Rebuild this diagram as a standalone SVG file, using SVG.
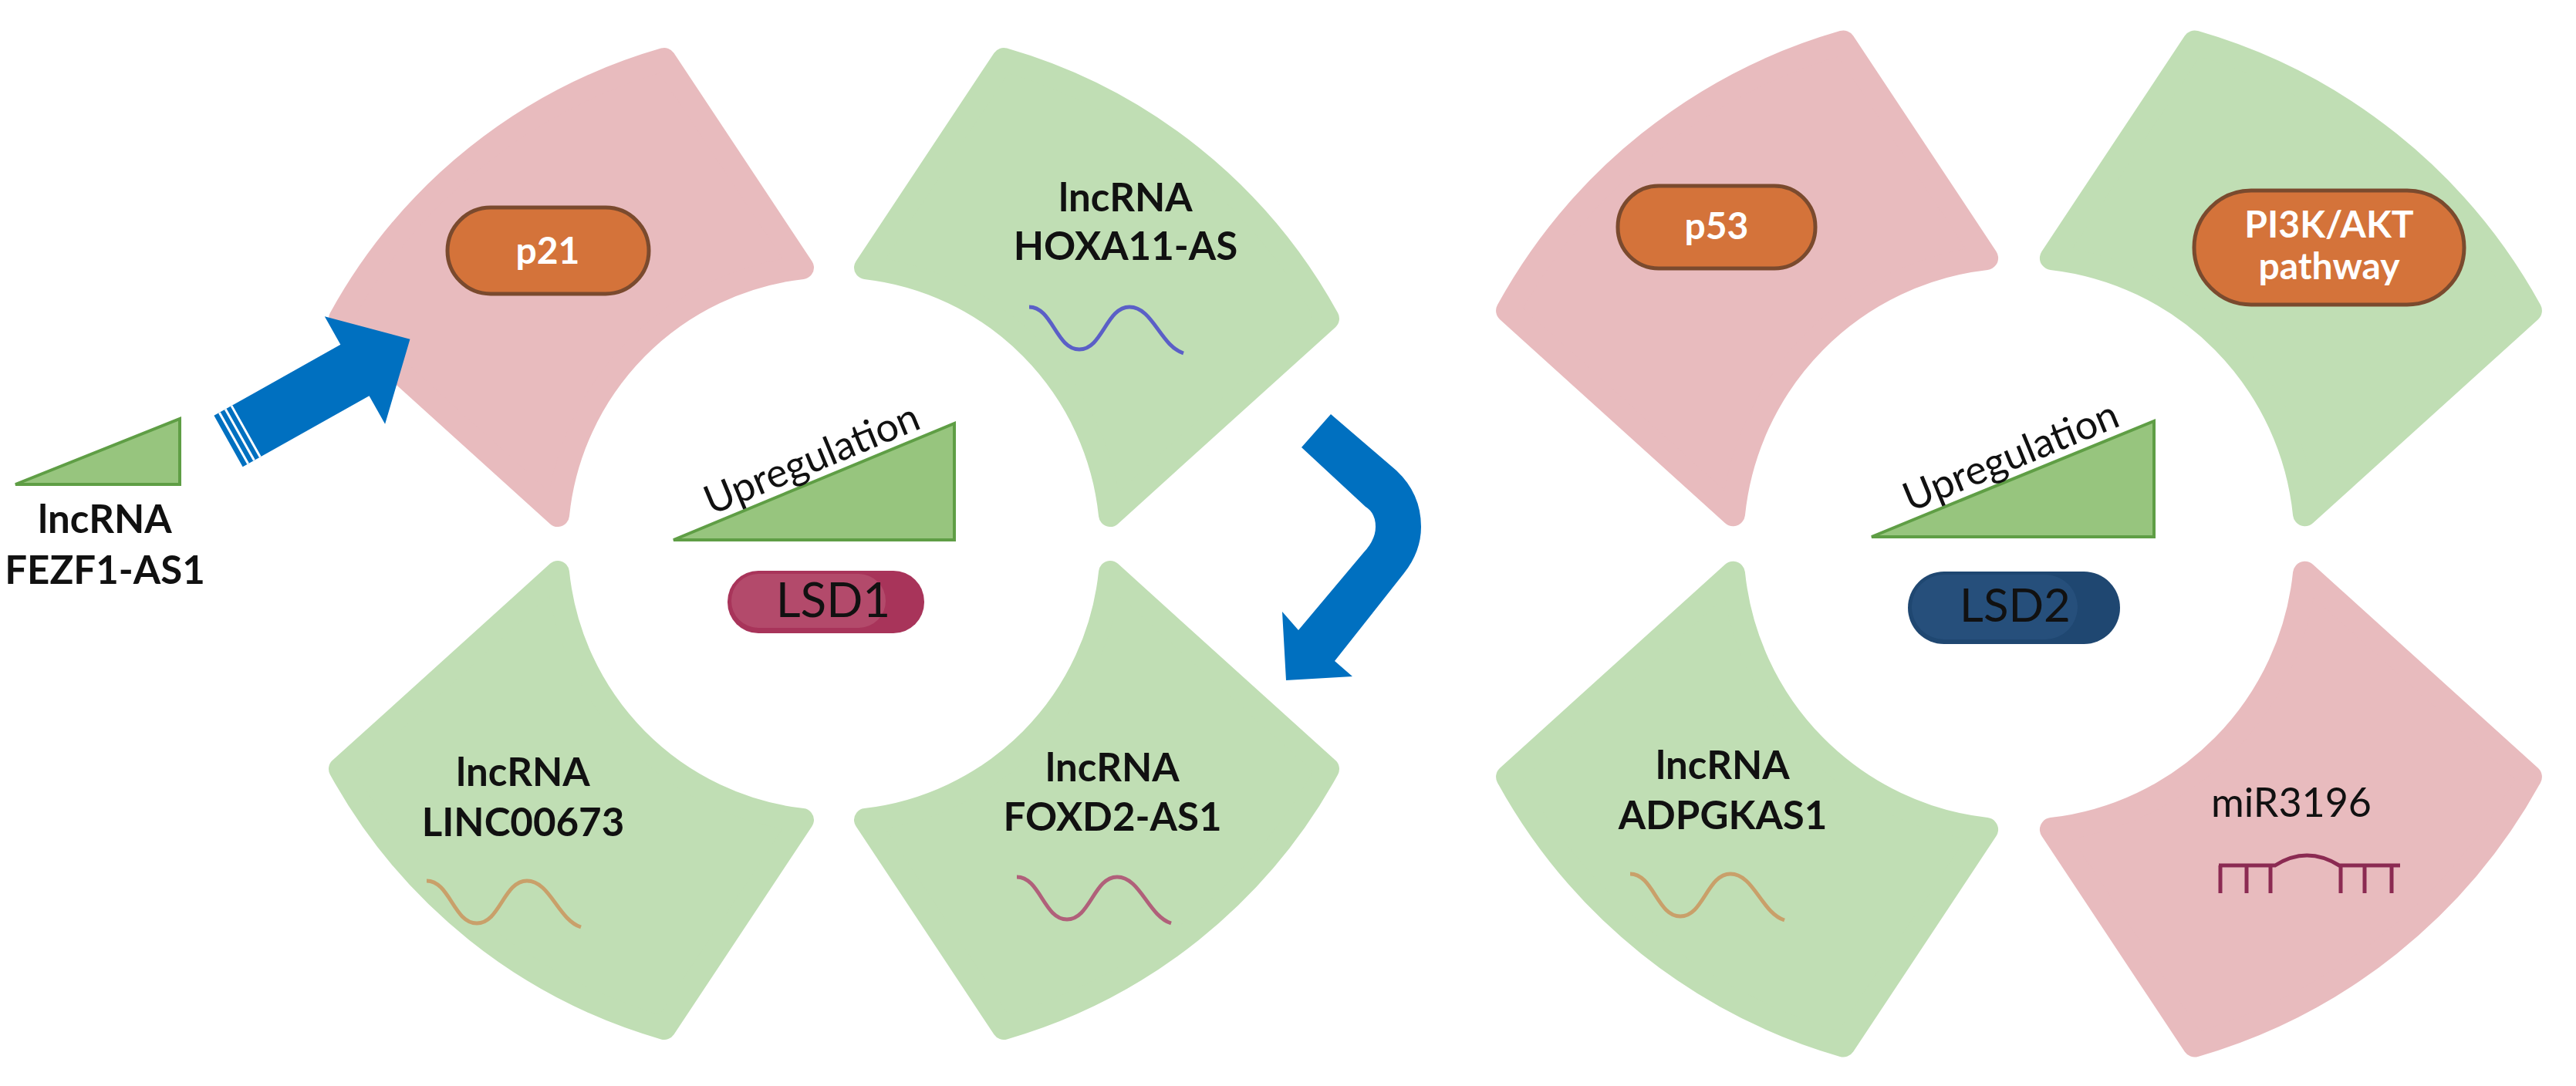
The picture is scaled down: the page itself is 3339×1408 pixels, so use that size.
<svg xmlns="http://www.w3.org/2000/svg" xmlns:xlink="http://www.w3.org/1999/xlink" width="3339" height="1408" viewBox="0 0 3339 1408">
<style>
.pink{fill:#e8bbbe;stroke:#e8bbbe;stroke-width:30;stroke-linejoin:round}
.green{fill:#c0deb4;stroke:#c0deb4;stroke-width:30;stroke-linejoin:round}
.lbl{font-family:Lato,"Liberation Sans",sans-serif;font-weight:bold;font-size:51px;fill:#111;text-anchor:middle}
.pill{fill:#d4733a;stroke:#7a4a2e;stroke-width:5}
.pt{font-family:Lato,"Liberation Sans",sans-serif;font-weight:bold;font-size:48px;fill:#fff;text-anchor:middle}
.tri{fill:#97c57e;stroke:#5f9e45;stroke-width:4}
.up{font-family:Lato,"Liberation Sans",sans-serif;font-size:52px;fill:#111}
.wave{fill:none;stroke-width:5}
.blue{fill:#0070c0}
</style>
<defs>
<path id="petal" d="M -640,-292 L -358,-37 A 360 360 0 0 1 -41,-358 L -220,-628 A 700 700 0 0 0 -640,-292 Z"/>
<path id="wv" d="M0,0 C30,0 35,55 65,55 C95,55 100,0 130,0 C160,0 170,50 200,60"/>
</defs>

<g id="lsd1-panel">
<g id="p21-node" transform="translate(1081,705)"><use xlink:href="#petal" class="pink"/></g>
<g id="hoxa-node"><use xlink:href="#petal" class="green" transform="translate(1081,705) scale(-1,1)"/>
<text class="lbl" x="1459" y="274">lncRNA</text><text class="lbl" x="1459" y="337">HOXA11-AS</text>
<use xlink:href="#wv" class="wave" stroke="#5b5fc7" transform="translate(1334,398)"/></g>
<g id="linc-node"><use xlink:href="#petal" class="green" transform="translate(1081,705) scale(1,-1)"/>
<text class="lbl" x="678" y="1019">lncRNA</text><text class="lbl" x="678" y="1084">LINC00673</text>
<use xlink:href="#wv" class="wave" stroke="#c9a06a" transform="translate(553,1142)"/></g>
<g id="foxd2-node"><use xlink:href="#petal" class="green" transform="translate(1081,705) scale(-1,-1)"/>
<text class="lbl" x="1442" y="1013">lncRNA</text><text class="lbl" x="1442" y="1077">FOXD2-AS1</text>
<use xlink:href="#wv" class="wave" stroke="#b0607a" transform="translate(1318,1137)"/></g>
<g id="p21"><rect class="pill" x="580" y="269" width="261" height="112" rx="56"/><text class="pt" x="710" y="342">p21</text></g>
<g id="lsd1-center">
<polygon class="tri" points="873,700 1237,700 1237,549"/>
<text class="up" transform="translate(922,668) rotate(-22.5)">Upregulation</text>
<rect x="943" y="740" width="255" height="81" rx="40" fill="#a8345a"/>
<rect x="948" y="744" width="200" height="70" rx="35" fill="#b5506f" opacity="0.8"/>
<text x="1080" y="800" font-family="Lato,'Liberation Sans',sans-serif" font-size="62" fill="#111" text-anchor="middle">LSD1</text>
</g>
<g id="fezf1-node">
<polygon class="tri" points="20,628 233,628 233,543"/>
<text class="lbl" x="136" y="691">lncRNA</text><text class="lbl" x="136" y="757">FEZF1-AS1</text>
</g>
</g>

<g id="lsd2-panel">
<g id="p53-node"><use xlink:href="#petal" class="pink" transform="translate(2617,705) scale(1.035)"/></g>
<g id="pi3k-node"><use xlink:href="#petal" class="green" transform="translate(2617,705) scale(-1.035,1.035)"/></g>
<g id="adpgk-node"><use xlink:href="#petal" class="green" transform="translate(2617,705) scale(1.035,-1.035)"/>
<text class="lbl" x="2233" y="1010">lncRNA</text><text class="lbl" x="2233" y="1075">ADPGKAS1</text>
<use xlink:href="#wv" class="wave" stroke="#c9a06a" transform="translate(2113,1133)"/></g>
<g id="mir-node"><use xlink:href="#petal" class="pink" transform="translate(2617,705) scale(-1.035,-1.035)"/>
<text x="2970" y="1059" font-family="Lato,'Liberation Sans',sans-serif" font-size="52" fill="#111" text-anchor="middle">miR3196</text>
<g fill="none" stroke="#8b2a52" stroke-width="5">
<path d="M2876,1122 L2949,1122 Q2990,1096 3032,1122 L3111,1122"/>
<path d="M2878,1122 V1158 M2912,1122 V1158 M2943,1122 V1158 M3034,1122 V1158 M3065,1122 V1158 M3100,1122 V1158"/>
</g></g>
<g id="p53"><rect class="pill" x="2097" y="241" width="256" height="107" rx="53"/><text class="pt" x="2225" y="310">p53</text></g>
<g id="pi3k"><rect class="pill" x="2844" y="247" width="350" height="148" rx="74"/><text class="pt" x="3019" y="308">PI3K/AKT</text><text class="pt" x="3019" y="362">pathway</text></g>
<g id="lsd2-center">
<polygon class="tri" points="2426,696 2792,696 2792,546"/>
<text class="up" transform="translate(2476,664) rotate(-22.3)">Upregulation</text>
<rect x="2473" y="741" width="275" height="94" rx="47" fill="#1f4771"/>
<rect x="2478" y="745" width="215" height="84" rx="42" fill="#28517e" opacity="0.8"/>
<text x="2612" y="806" font-family="Lato,'Liberation Sans',sans-serif" font-size="60" fill="#111" text-anchor="middle">LSD2</text>
</g>
</g>

<g id="connectors">
<g transform="translate(296,572) rotate(-29.3)">
<polygon class="blue" points="0,-38 188,-38 188,-80 270,0 188,80 188,38 0,38"/>
<path d="M8,-38 V38 M17,-38 V38 M26,-38 V38" stroke="#fff" stroke-width="3"/>
</g>
<path class="blue" d="M1687,580 L1725,537 L1810,610 Q1842,640 1842,683 Q1842,715 1820,743 L1730,857 L1753,877 L1667,882 L1662,793 L1683,817 L1767,717 Q1783,700 1783,683 Q1783,665 1770,657 Z"/>
</g>
</svg>
